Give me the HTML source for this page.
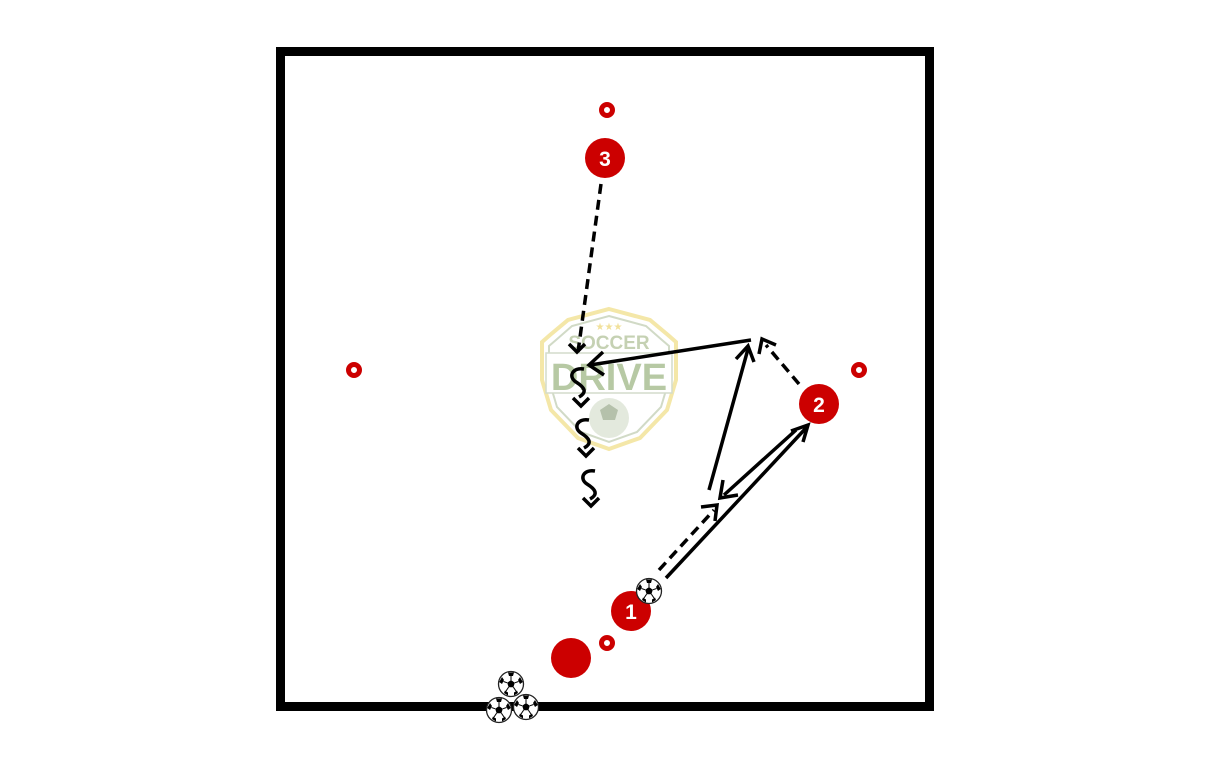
<!DOCTYPE html>
<html><head><meta charset="utf-8"><style>
html,body{margin:0;padding:0;background:#fff;width:1215px;height:759px;overflow:hidden}
svg{display:block}
</style></head><body>
<svg width="1215" height="759" viewBox="0 0 1215 759" xmlns="http://www.w3.org/2000/svg">
<defs>
<g id="ball">
<circle r="12.5" fill="#fff" stroke="#222" stroke-width="1.3"/>
<polygon points="0,-4 3.8,-1.2 2.4,3.2 -2.4,3.2 -3.8,-1.2" fill="#000"/>
<path d="M-3,-11.5 L3,-11.5 L2,-8 L-2,-8Z M9,-7 L11.8,-2 L9,0 L7,-4Z M-9,-7 L-11.8,-2 L-9,0 L-7,-4Z M-7,9 L-3,11.5 L-3,8.5 L-6,6.5Z M7,9 L3,11.5 L3,8.5 L6,6.5Z" fill="#000"/>
<path d="M0,-4 L0,-8 M3.8,-1.2 L7.5,-2.5 M-3.8,-1.2 L-7.5,-2.5 M2.4,3.2 L5,7 M-2.4,3.2 L-5,7" stroke="#000" stroke-width="1"/>
</g>
</defs>
<g opacity="0.85">
<path d="M609,309 L650,320 L668,335 L676,342 L676,380 L667,410 L640,438 L609,449 L578,438 L551,410 L542,380 L542,342 L550,335 L568,320 Z" fill="#fff" stroke="#f3e39a" stroke-width="4"/>
<path d="M609,316 L646,326 L662,340 L669,346 L669,380 L661,407 L637,432 L609,442 L581,432 L557,407 L549,380 L549,346 L556,340 L572,326 Z" fill="none" stroke="#c9d4bd" stroke-width="2"/>
<text x="609" y="330" text-anchor="middle" font-family="Liberation Sans, sans-serif" font-size="10" fill="#f0dc8a">★★★</text>
<text x="609" y="349" text-anchor="middle" font-family="Liberation Sans, sans-serif" font-weight="bold" font-size="19" fill="#bccaa6">SOCCER</text>
<rect x="546" y="353" width="126" height="40" fill="#fff" stroke="#cdd7c2" stroke-width="1.5"/>
<text x="609" y="390" text-anchor="middle" font-family="Liberation Sans, sans-serif" font-weight="bold" font-size="38" fill="#abc095">DRIVE</text>
<circle cx="609" cy="418" r="20" fill="#dfe6d8"/>
<path d="M600,410 L609,404 L618,410 L615,420 L603,420Z" fill="#a9b79d"/>
</g>
<rect x="280.5" y="51.5" width="649" height="655" fill="none" stroke="#000" stroke-width="9"/>
<g fill="none" stroke="#cc0000" stroke-width="5">
<circle cx="607" cy="110" r="5.5"/><circle cx="354" cy="370" r="5.5"/><circle cx="859" cy="370" r="5.5"/><circle cx="607" cy="643" r="5.5"/>
</g>
<g fill="none" stroke="#000" stroke-width="3.5" stroke-linecap="butt">
<path d="M601,184 L578,352" stroke-dasharray="10,6"/>
<path d="M569,344 L577,352 L585,344 M573,398 L581,406 L589,398 M578,448 L586,456 L594,448 M583,498 L591,506 L599,498"/>
<path d="M584,369 C572,367 568,377 576,382 C584,387 588,392 579,397"/>
<path d="M589,420 C577,418 573,428 581,433 C589,438 593,443 584,448"/>
<path d="M595,471 C583,469 579,479 587,484 C595,489 599,494 590,499"/>
<path d="M751,340 L590,365"/>
<path d="M603,352 L589,365 L604,375"/>
<path d="M799,384 L766,345" stroke-dasharray="10,6"/>
<path d="M759,354 L762,339 L776,345"/>
<path d="M709,490 L748,349"/>
<path d="M736,359 L748,346 L754,362"/>
<path d="M666,578 L806,428"/>
<path d="M791,431 L808,425 L803,442"/>
<path d="M796,430 L724,495"/>
<path d="M723,480 L720,498 L738,495"/>
<path d="M659,570 L714,510" stroke-dasharray="10,6"/>
<path d="M701,507 L717,505 L715,521"/>
</g>
<g fill="#cc0000">
<circle cx="605" cy="158" r="20"/><circle cx="819" cy="404" r="20"/><circle cx="631" cy="611" r="20"/><circle cx="571" cy="658" r="20"/>
</g>
<g font-family="Liberation Sans, sans-serif" font-weight="bold" font-size="21" fill="#fff" text-anchor="middle">
<text x="605" y="166">3</text><text x="819" y="412">2</text><text x="631" y="619">1</text>
</g>
<use href="#ball" x="649" y="591"/>
<use href="#ball" x="511" y="684"/>
<use href="#ball" x="499" y="710"/>
<use href="#ball" x="526" y="707"/>
</svg>
</body></html>
